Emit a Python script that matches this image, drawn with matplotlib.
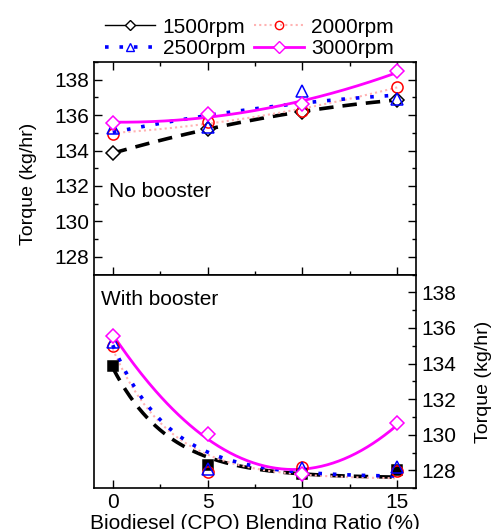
import numpy as np
import matplotlib
matplotlib.use('Agg')
import matplotlib.pyplot as plt
from matplotlib.lines import Line2D

matplotlib.rcParams['font.family'] = ['Liberation Sans', 'DejaVu Sans']
matplotlib.rcParams['font.size'] = 15

# blending ratio (%)
ratio = np.array([0, 5, 10, 15])

# torque, no booster
nb_1500 = [133.85, 135.2, 136.2, 136.85]
nb_2000 = [134.95, 135.63, 136.25, 137.6]
nb_2500 = [135.25, 135.3, 137.35, 136.9]
nb_3000 = [135.53, 136.08, 136.6, 138.47]

# torque, with booster
wb_1500 = [133.85, 128.3, 127.8, 128.0]
wb_2000 = [134.98, 127.9, 128.2, 127.95]
wb_2500 = [135.2, 128.1, 128.15, 128.2]
wb_3000 = [135.54, 130.04, 127.8, 130.64]

labels = ['1500rpm', '2000rpm', '2500rpm', '3000rpm']

# decay constant used for the exponential fits (with booster)
tau = 3.0


def quad_fit(x, y, xs):
    p = np.polyfit(x, y, 2)
    return np.polyval(p, xs)


def exp_fit(x, y, xs):
    # y = y0 + A*exp(-x/tau)
    x = np.asarray(x, float)
    M = np.column_stack([np.ones_like(x), np.exp(-x / tau)])
    c = np.linalg.lstsq(M, np.asarray(y, float), rcond=None)[0]
    return c[0] + c[1] * np.exp(-xs / tau)


fit_style = [
    dict(color='black', lw=2.6, ls=(0, (4, 2.5))),
    dict(color='#ffb3b3', lw=1.5, ls=(0, (1, 1.5))),
    dict(color='blue', lw=2.6, ls=(0, (1, 3))),
    dict(color='magenta', lw=2.0, ls='-'),
]
mk_top = [
    dict(marker='D', mec='black', mfc='white', ms=7),
    dict(marker='o', mec='red', mfc='none', ms=8),
    dict(marker='^', mec='blue', mfc='none', ms=9),
    dict(marker='D', mec='magenta', mfc='white', ms=7),
]
mk_bot = [
    dict(marker='s', mec='black', mfc='black', ms=7),
    dict(marker='o', mec='red', mfc='none', ms=8),
    dict(marker='^', mec='blue', mfc='none', ms=9),
    dict(marker='D', mec='magenta', mfc='white', ms=7),
]

fig = plt.figure(figsize=(4.99, 5.29), dpi=100)
ax1 = fig.add_axes([0.188, 0.481, 0.646, 0.402])
ax2 = fig.add_axes([0.188, 0.077, 0.646, 0.404])

xs = np.linspace(0, 15, 200)

top = [nb_1500, nb_2000, nb_2500, nb_3000]
for i, y in enumerate(top):
    ax1.plot(xs, quad_fit(ratio, y, xs), **fit_style[i], zorder=2)
for i, y in enumerate(top):
    ax1.plot(ratio, y, ls='none', mew=1.1, **mk_top[i], zorder=3)

bot = [wb_1500, wb_2000, wb_2500, wb_3000]
for i, y in enumerate(bot):
    if i == 3:
        ax2.plot(xs, quad_fit(ratio, y, xs), **fit_style[i], zorder=2)
    else:
        ax2.plot(xs, exp_fit(ratio, y, xs), **fit_style[i], zorder=2)
for i, y in enumerate(bot):
    ax2.plot(ratio, y, ls='none', mew=1.1, **mk_bot[i], zorder=3)

for ax in (ax1, ax2):
    ax.set_xlim(-1, 16)
    ax.set_ylim(127, 139)
    ax.set_xticks([0, 5, 10, 15])
    ax.set_xticks([2.5, 7.5, 12.5], minor=True)
    ax.set_yticks([128, 130, 132, 134, 136, 138])
    ax.set_yticks(np.arange(127, 140, 1), minor=True)
    for s in ax.spines.values():
        s.set_linewidth(1.2)

ax1.tick_params(which='both', direction='in', top=True, bottom=True,
                left=True, right=True, labelbottom=False, labelsize=15)
ax1.tick_params(which='major', length=6, width=1)
ax1.tick_params(which='minor', length=3, width=1)
ax1.set_ylabel('Torque (kg/hr)', fontsize=14)
ax1.yaxis.set_label_coords(-0.175, 0.425)
ax1.text(-0.2, 131.7, 'No booster', fontsize=15, va='center')

ax2.yaxis.tick_right()
ax2.yaxis.set_label_position('right')
ax2.tick_params(which='both', direction='in', top=False, bottom=True,
                left=False, right=True, labelsize=15)
ax2.tick_params(which='major', length=6, width=1)
ax2.tick_params(which='minor', length=3, width=1)
ax2.set_ylabel('Torque (kg/hr)', fontsize=14, labelpad=14)
ax2.set_xlabel('Biodiesel (CPO) Blending Ratio (%)', fontsize=15, labelpad=1)
ax2.text(-0.6, 137.6, 'With booster', fontsize=15, va='center')

h = [
    Line2D([], [], color='black', lw=1.0, marker='D', mec='black', mfc='white', ms=5),
    Line2D([], [], color='#ffb3b3', lw=1.5, ls=(0, (1, 1.5)), marker='o', mec='red', mfc='none', ms=6),
    Line2D([], [], color='blue', lw=2.6, ls=(0, (1, 3)), marker='^', mec='blue', mfc='none', ms=6),
    Line2D([], [], color='magenta', lw=2.0, marker='D', mec='magenta', mfc='white', ms=6),
]
# column-wise fill -> rows: 1500/2000, 2500/3000
order = [0, 2, 1, 3]
fig.legend([h[i] for i in order], [labels[i] for i in order], ncol=2,
           frameon=False, fontsize=15,
           loc='lower center', bbox_to_anchor=(0.5, 0.875),
           handlelength=2.4, handletextpad=0.35, columnspacing=0.4,
           labelspacing=0.1, borderaxespad=0)

fig.savefig('out.png', dpi=100)
